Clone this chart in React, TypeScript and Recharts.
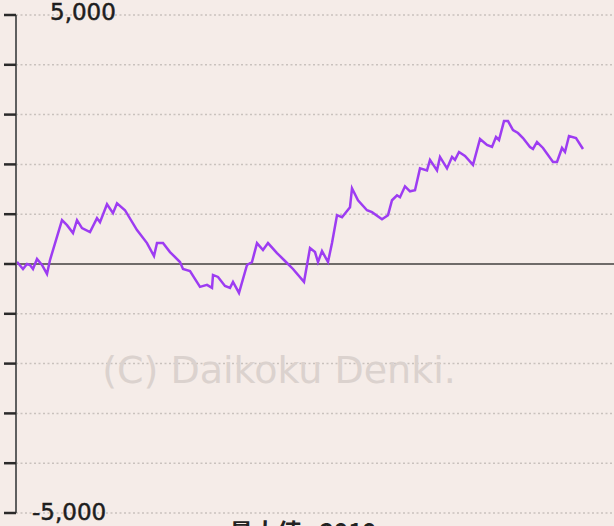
import React from "react";
import { LineChart, Line, XAxis, YAxis, CartesianGrid, ReferenceLine } from "recharts";

// games (x position in play count units) and difference-of-medals values
const games: number[] = [
  1, 2, 7, 11, 14, 17, 21, 26, 31, 34, 46, 51, 57, 61, 66, 74, 81, 84, 91, 97, 101, 109,
  121, 131, 138, 141, 147, 154, 164, 167, 174, 184, 191, 196, 197, 202, 209, 214, 217, 223,
  231, 236, 241, 247, 252, 261, 271, 277, 288, 294, 299, 302, 306, 312, 316, 321, 326, 334,
  336, 342, 351, 356, 366, 372, 376, 381, 384, 389, 394, 399, 404, 411, 414, 421, 424, 431,
  436, 439, 443, 449, 457, 464, 471, 476, 480, 483, 488, 492, 497, 502, 507, 514, 517, 521,
  527, 537, 541, 546, 549, 553, 560, 567,
];
const values: number[] = [
  40, 20, -100, 0, -20, -100, 100, -20, -200, 80, 880, 780, 620, 880, 720, 640, 920, 840,
  1200, 1020, 1220, 1080, 680, 420, 160, 420, 420, 240, 40, -100, -140, -460, -420, -480,
  -220, -260, -440, -480, -360, -580, -20, 40, 420, 280, 420, 220, 20, -100, -360, 320, 240,
  40, 260, 40, 420, 980, 940, 1140, 1520, 1280, 1080, 1040, 900, 980, 1280, 1380, 1340, 1560,
  1460, 1480, 1920, 1880, 2090, 1880, 2150, 1920, 2150, 2090, 2250, 2170, 1990, 2510, 2390,
  2350, 2550, 2490, 2870, 2870, 2690, 2630, 2530, 2350, 2310, 2450, 2330, 2050, 2050, 2330,
  2250, 2570, 2530, 2310,
];
const yTicks: number[] = [-5000, -4000, -3000, -2000, -1000, 0, 1000, 2000, 3000, 4000, 5000];
const labeledTicks: Record<number, string> = { 5000: "5,000", [-5000]: "-5,000" };
const watermark = "(C) Daikoku Denki.";
const footer = "最大値 : 2919";

const data = games.map((g, i) => ({ g, v: values[i] }));

const YTick = (props: any) => {
  const { x, y, payload } = props;
  const label = labeledTicks[payload.value];
  if (!label) return null;
  const isTop = payload.value > 0;
  return (
    <text
      x={isTop ? x + 48 : x + 30}
      y={isTop ? y + 5 : y + 7}
      fontFamily="DejaVu Sans"
      fontSize={23}
      fill="#1e1e1e"
      stroke="#1e1e1e"
      strokeWidth={0.5}
    >
      {label}
    </text>
  );
};

export default function App() {
  return (
    <div style={{ position: "absolute", left: 0, top: 0, width: 614, height: 526, background: "#f5ece8" }}>
      <LineChart width={614} height={526} data={data} margin={{ top: 15, right: 0, bottom: 13, left: 0 }}>
        <CartesianGrid horizontal vertical={false} stroke="#c9c1bd" strokeDasharray="2 2.5" strokeWidth={1.5} />
        <XAxis dataKey="g" type="number" domain={[0, 598]} hide />
        <YAxis
          domain={[-5000, 5000]}
          ticks={yTicks}
          width={16}
          tickSize={12}
          tickLine={{ stroke: "#2a2a2a", strokeWidth: 2.5 }}
          axisLine={{ stroke: "#5f5f5f", strokeWidth: 2 }}
          tick={<YTick />}
          interval={0}
        />
        <ReferenceLine y={0} stroke="#6f6b69" strokeWidth={2} ifOverflow="extendDomain" />
        <text x={279} y={383} textAnchor="middle" fontFamily="DejaVu Sans" fontSize={38} fill="#dbd2ce">
          {watermark}
        </text>
        <text x={303} y={541} textAnchor="middle" fontFamily="Noto Sans CJK JP" fontSize={24} fontWeight={700} fill="#222">
          {footer}
        </text>
        <Line
          type="linear"
          dataKey="v"
          stroke="#9d3cf2"
          strokeWidth={2.5}
          dot={false}
          isAnimationActive={false}
        />
      </LineChart>
    </div>
  );
}
